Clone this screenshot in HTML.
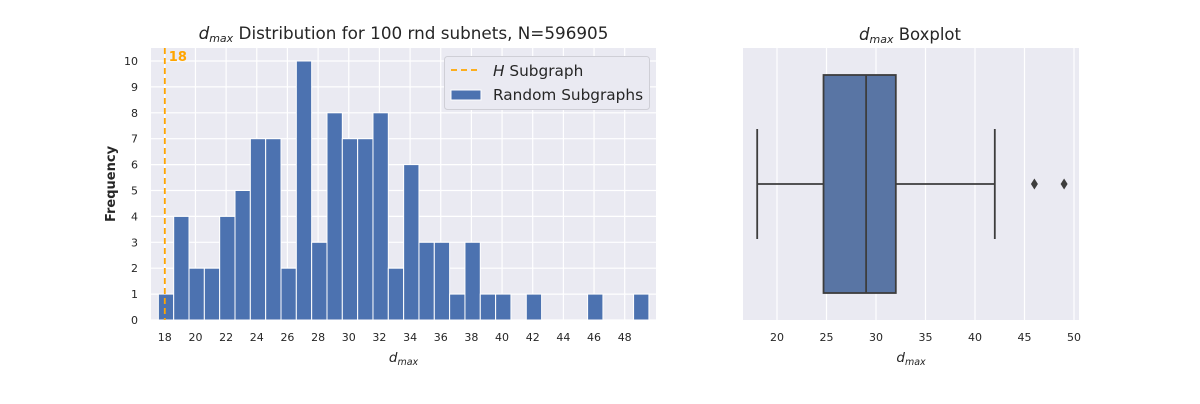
<!DOCTYPE html>
<html><head><meta charset="utf-8">
<style>
body{margin:0;background:#fff;font-family:"DejaVu Sans","Liberation Sans",sans-serif;}
svg text{font-family:"DejaVu Sans","Liberation Sans",sans-serif;}
</style></head>
<body>
<svg id="c" width="1200" height="400" xmlns="http://www.w3.org/2000/svg"></svg>
<script>
const histValues=[18,19,20,21,22,23,24,25,26,27,28,29,30,31,32,33,34,35,36,37,38,39,40,41,42,43,44,45,46,47,48,49];
const histCounts=[1,4,2,2,4,5,7,7,2,10,3,8,7,7,8,2,6,3,3,1,3,1,1,0,1,0,0,0,1,0,0,1];
const histXTicks=[18,20,22,24,26,28,30,32,34,36,38,40,42,44,46,48];
const histYTicks=[0,1,2,3,4,5,6,7,8,9,10];
const hValue=[18];
const boxStats=[18,24.7,29,32,42];
const boxOutliers=[46,49];
const boxXTicks=[20,25,30,35,40,45,50];

const NS="http://www.w3.org/2000/svg";
const svg=document.getElementById('c');
function mk(tag,attrs,parent,text){const e=document.createElementNS(NS,tag);for(const k in attrs)e.setAttribute(k,attrs[k]);if(text!==undefined)e.textContent=text;(parent||svg).appendChild(e);return e;}

// ---- Histogram ----
const L={x0:151,x1:656,y0:48,y1:320};
const xs=v=>164.8+(v-18)*15.33;
const ys=v=>320-v*25.9;
let g=mk('g',{});


let bg=mk('rect',{x:L.x0,y:L.y0,width:L.x1-L.x0,height:L.y1-L.y0,fill:'#eaeaf2'},g);


histYTicks.forEach(t=>{
  const l=mk('line',{x1:L.x0,x2:L.x1,y1:ys(t),y2:ys(t),stroke:'#fff','stroke-width':1.2},g);
  
  
  const tx=mk('text',{x:L.x0-13,y:ys(t)+4,'font-size':11,fill:'#262626','text-anchor':'end'},g,String(t));
  
  
});
histXTicks.forEach(t=>{
  const l=mk('line',{x1:xs(t),x2:xs(t),y1:L.y0,y2:L.y1,stroke:'#fff','stroke-width':1.2},g);
  
  
  const tx=mk('text',{x:xs(t),y:341,'font-size':11,fill:'#262626','text-anchor':'middle'},g,String(t));
  
  
});
histValues.forEach((v,i)=>{
  if(!histCounts[i])return;
  const x=xs(v-0.42),w=15.33;
  const r=mk('rect',{x:x,y:ys(histCounts[i]),width:w,height:ys(0)-ys(histCounts[i]),fill:'#4c72b0',stroke:'#fff','stroke-width':1},g);
  
  
});
const hl=mk('line',{x1:xs(hValue[0]),x2:xs(hValue[0]),y1:L.y0,y2:L.y1,stroke:'#ffa500','stroke-width':1.8,'stroke-dasharray':'6,4'},g);


const hlab=mk('text',{x:xs(hValue[0])+4,y:61,'font-size':13,'font-weight':'bold',fill:'#ffa500'},g,String(hValue[0]));


const t1=mk('text',{x:403.5,y:39,'font-size':16.8,fill:'#262626','text-anchor':'middle'},g);


t1.innerHTML='<tspan font-style="italic">d</tspan><tspan font-style="italic" font-size="11" dy="3">max</tspan><tspan dy="-3"> Distribution for 100 rnd subnets, N=596905</tspan>';
const xl=mk('text',{x:403.5,y:362,'font-size':13.5,fill:'#262626','text-anchor':'middle'},g);


xl.innerHTML='<tspan font-style="italic">d</tspan><tspan font-style="italic" font-size="9.5" dy="3">max</tspan>';
const yl=mk('text',{x:115,y:184,'font-size':13,'font-weight':'bold',fill:'#262626','text-anchor':'middle',transform:'rotate(-90 115 184)'},g,'Frequency');


// legend
const lg=mk('g',{},g);


mk('rect',{x:444.5,y:56.5,width:205,height:53,rx:3,fill:'#eaeaf2',stroke:'#cfcfd6','stroke-width':1},lg);
const le1=mk('line',{x1:451,x2:480,y1:70,y2:70,stroke:'#ffa500','stroke-width':1.8,'stroke-dasharray':'6,4'},lg);


const lt1=mk('text',{x:493,y:76,'font-size':15.3,fill:'#262626'},lg);
lt1.innerHTML='<tspan font-style="italic">H</tspan> Subgraph';


const le2=mk('rect',{x:451,y:90,width:30,height:10,fill:'#4c72b0',stroke:'#fff','stroke-width':1},lg);


const lt2=mk('text',{x:493,y:100,'font-size':15.3,fill:'#262626'},lg,'Random Subgraphs');



// ---- Boxplot ----
const R={x0:743,x1:1079,y0:48,y1:320};
const bx=v=>777+(v-20)*9.9;
let g2=mk('g',{});


const bg2=mk('rect',{x:R.x0,y:R.y0,width:R.x1-R.x0,height:R.y1-R.y0,fill:'#eaeaf2'},g2);


boxXTicks.forEach(t=>{
  const l=mk('line',{x1:bx(t),x2:bx(t),y1:R.y0,y2:R.y1,stroke:'#fff','stroke-width':1.2},g2);
  
  
  const tx=mk('text',{x:bx(t),y:341,'font-size':11,fill:'#262626','text-anchor':'middle'},g2,String(t));
  
  
});
const cy=184,c='#3d3d3d';
const w1=mk('line',{x1:bx(boxStats[0]),x2:bx(boxStats[1]),y1:cy,y2:cy,stroke:c,'stroke-width':1.8},g2);


const w2=mk('line',{x1:bx(boxStats[3]),x2:bx(boxStats[4]),y1:cy,y2:cy,stroke:c,'stroke-width':1.8},g2);


[0,4].forEach(i=>{
  const cp=mk('line',{x1:bx(boxStats[i]),x2:bx(boxStats[i]),y1:129,y2:239,stroke:c,'stroke-width':1.8},g2);
  
  
});
const box=mk('rect',{x:bx(boxStats[1]),y:75,width:bx(boxStats[3])-bx(boxStats[1]),height:218,fill:'#5975a4',stroke:c,'stroke-width':1.8},g2);


const md=mk('line',{x1:bx(boxStats[2]),x2:bx(boxStats[2]),y1:75,y2:293,stroke:c,'stroke-width':1.8},g2);


boxOutliers.forEach(v=>{
  const x=bx(v);
  const d=mk('path',{d:`M${x},${cy-5.5} L${x+3.5},${cy} L${x},${cy+5.5} L${x-3.5},${cy} Z`,fill:c},g2);
  
  
});
const t2=mk('text',{x:910,y:40,'font-size':16.5,fill:'#262626','text-anchor':'middle'},g2);


t2.innerHTML='<tspan font-style="italic">d</tspan><tspan font-style="italic" font-size="11" dy="3">max</tspan><tspan dy="-3"> Boxplot</tspan>';
const xl2=mk('text',{x:911,y:362,'font-size':13.5,fill:'#262626','text-anchor':'middle'},g2);


xl2.innerHTML='<tspan font-style="italic">d</tspan><tspan font-style="italic" font-size="9.5" dy="3">max</tspan>';
</script>
</body></html>
